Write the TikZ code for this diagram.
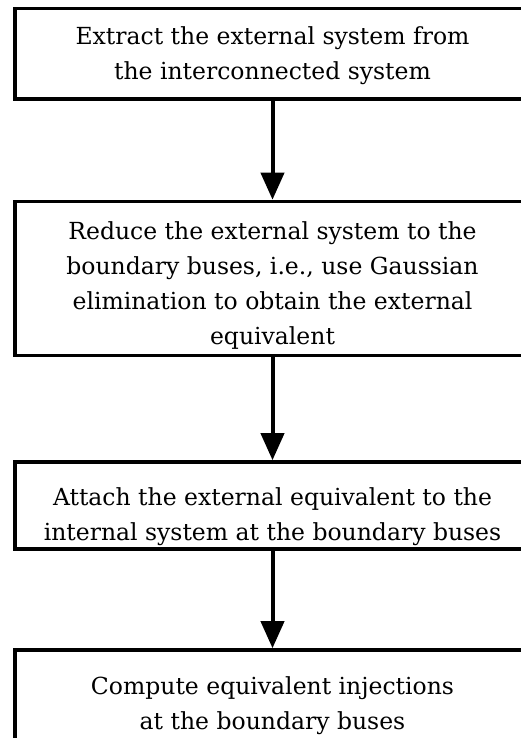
\documentclass[tikz,border=0pt]{standalone}
\usepackage{fontspec}
\setmainfont{DejaVu Serif}
\usetikzlibrary{arrows.meta}

% invisible strut on the first line: lowers the text block by #1 inside its box
\newcommand\dropby[1]{\rule{0pt}{\dimexpr 18pt+#1+#1\relax}}

\tikzset{
  stepbox/.style={draw=black, line width=3.6pt, rectangle, align=center,
    minimum width=515pt, inner sep=0pt,
    font=\fontsize{23.5}{35}\selectfont},
  flow/.style={draw=black, line width=4pt,
    -{Triangle[width=23pt,length=27pt]}}
}

\begin{document}
\begin{tikzpicture}[x=1pt,y=-1pt]
  \useasboundingbox (0,0) rectangle (521,738);
  \fill[white] (0,0) rectangle (521,738);

  % process steps
  \node[stepbox, minimum height=90.5pt] (extract) at (272.5,53.8)
    {\dropby{2pt}Extract the external system from\\the interconnected system};
  \node[stepbox, minimum height=154pt] (reduce) at (272.5,278.5)
    {\dropby{7pt}Reduce the external system to the\\boundary buses, i.e., use Gaussian\\elimination to obtain the external\\equivalent};
  \node[stepbox, minimum height=87pt] (attach) at (272.5,505.5)
    {\dropby{11pt}Attach the external equivalent to the\\internal system at the boundary buses};
  \node[stepbox, minimum height=108pt] (inject) at (272.5,704)
    {\dropby{2pt}Compute equivalent injections\\at the boundary buses};

  % connectors between steps
  \draw[flow] (extract) -- (reduce);
  \draw[flow] (reduce) -- (attach);
  \draw[flow] (attach) -- (inject);
\end{tikzpicture}
\end{document}
